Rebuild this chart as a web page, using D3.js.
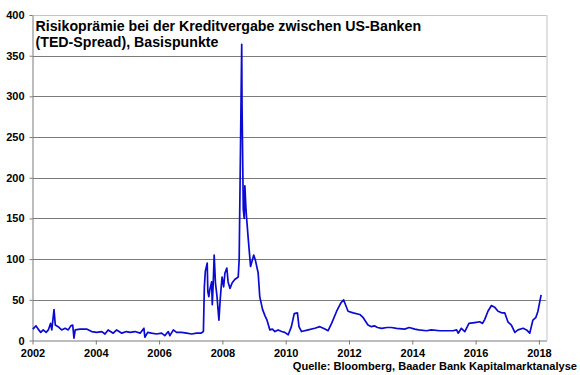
<html>
  <head>
    <style>
      body { margin: 0; background: #fff; }
      text { font-family: "Liberation Sans", Arial, sans-serif; }
    </style>
  </head>
  <body>
    <div id="chart"><svg width=580 height=375></svg></div>
    <script type="text/javascript" src="https://cdnjs.cloudflare.com/ajax/libs/d3/7.8.5/d3.min.js"></script>
    <script type="text/javascript">
// TED spread, basis points (decimal years)
var years = [2002.01, 2002.11, 2002.18, 2002.26, 2002.34, 2002.43, 2002.50, 2002.57, 2002.61, 2002.68,
  2002.72, 2002.81, 2002.92, 2003.03, 2003.13, 2003.21, 2003.27, 2003.31, 2003.35, 2003.50,
  2003.71, 2003.87, 2004.03, 2004.19, 2004.29, 2004.39, 2004.55, 2004.66, 2004.82, 2004.97,
  2005.08, 2005.24, 2005.40, 2005.52, 2005.55, 2005.64, 2005.76, 2005.92, 2006.08, 2006.18,
  2006.29, 2006.34, 2006.45, 2006.55, 2006.71, 2006.87, 2007.03, 2007.18, 2007.32, 2007.40,
  2007.43, 2007.46, 2007.52, 2007.54, 2007.57,
  2007.60, 2007.66, 2007.68, 2007.71, 2007.74, 2007.78, 2007.83, 2007.89, 2007.93, 2007.96,
  2007.99, 2008.04, 2008.08, 2008.14, 2008.18, 2008.24, 2008.31, 2008.39, 2008.50, 2008.53,
  2008.57, 2008.61, 2008.62, 2008.66, 2008.69, 2008.71, 2008.74, 2008.76, 2008.81, 2008.89,
  2008.94, 2008.99, 2009.04, 2009.13, 2009.18, 2009.27, 2009.35, 2009.41, 2009.50, 2009.58,
  2009.66, 2009.76, 2009.87, 2009.97, 2010.08, 2010.18, 2010.27, 2010.37, 2010.42, 2010.50,
  2010.71, 2010.92, 2011.08, 2011.24, 2011.34, 2011.45, 2011.61, 2011.74, 2011.83, 2011.89,
  2011.97, 2012.13, 2012.34, 2012.45, 2012.60, 2012.71, 2012.80, 2012.90, 2013.03, 2013.20,
  2013.34, 2013.50, 2013.76, 2013.90, 2014.08, 2014.20, 2014.45, 2014.60, 2014.87, 2015.00,
  2015.29, 2015.40, 2015.45, 2015.55, 2015.66, 2015.79, 2015.97, 2016.13, 2016.22, 2016.29,
  2016.39, 2016.50, 2016.60, 2016.71, 2016.82, 2016.92, 2017.02, 2017.13, 2017.24, 2017.34,
  2017.50, 2017.61, 2017.71, 2017.81, 2017.90, 2017.97, 2018.03, 2018.07];
var spread = [14, 18, 14, 10, 13, 10, 13, 21, 13, 38,
  19, 17, 13, 15, 13, 18, 19, 3, 13, 14,
  14, 11, 10, 11, 8, 13, 9, 13, 9, 11,
  10, 11, 9, 15, 4, 10, 9, 8, 9, 6,
  11, 6, 13, 10, 10, 9, 8, 9, 9, 11,
  66, 85, 95, 60, 54,
  62, 72, 44, 70, 105, 71, 54, 25, 50, 65,
  78, 66, 83, 89, 72, 64, 71, 75, 78, 100,
  231, 364, 290, 161, 150, 190, 165, 153, 128, 91,
  98, 105, 99, 83, 54, 38, 30, 25, 13, 14,
  11, 13, 11, 10, 7, 17, 33, 34, 17, 11,
  13, 15, 17, 14, 12, 21, 36, 46, 50, 44,
  36, 34, 32, 28, 19, 17, 18, 16, 15, 16,
  16, 15, 14, 16, 14, 13, 12, 13, 12, 12,
  12, 13, 9, 15, 11, 21, 22, 23, 21, 26,
  36, 43, 41, 36, 34, 34, 23, 19, 10, 13,
  15, 13, 9, 25, 28, 36, 48, 56];
var yearTicks = [2002, 2004, 2006, 2008, 2010, 2012, 2014, 2016, 2018];
var valueTicks = [0, 50, 100, 150, 200, 250, 300, 350, 400];
var titleLines = ["Risikoprämie bei der Kreditvergabe zwischen US-Banken", "(TED-Spread), Basispunkte"];
var source = "Quelle: Bloomberg, Baader Bank Kapitalmarktanalyse";

var svg = d3.select("#chart svg");
var plotLeft = 32.5, plotRight = 546.5, plotTop = 15, plotBottom = 340.5;

var x = d3.scaleLinear().domain([2002, 2018.24]).range([plotLeft, plotRight]);
var y = d3.scaleLinear().domain([0, 400]).range([plotBottom, plotTop]);

// gridlines
svg.append("g").selectAll("line")
  .data(valueTicks.filter(function(d) { return d > 0; }))
  .enter().append("line")
    .attr("x1", plotLeft).attr("x2", plotRight)
    .attr("y1", function(d) { return Math.round(y(d)) + 0.5; })
    .attr("y2", function(d) { return Math.round(y(d)) + 0.5; })
    .attr("stroke", function(d) { return d == 400 ? "#c4c4c4" : "#7a7a7a"; })
    .attr("stroke-width", 1);
// right border
svg.append("line")
  .attr("x1", plotRight + 0.5).attr("x2", plotRight + 0.5)
  .attr("y1", y(400)).attr("y2", plotBottom)
  .attr("stroke", "#c4c4c4");

// axes
var yAxis = d3.axisLeft(y).tickValues(valueTicks).tickSizeInner(3).tickSizeOuter(0).tickPadding(5);
var gy = svg.append("g").attr("transform", "translate(" + plotLeft + ",0)").call(yAxis);
var xAxis = d3.axisBottom(x).tickValues(yearTicks).tickFormat(d3.format("d")).tickSizeInner(4).tickSizeOuter(0).tickPadding(5);
var gx = svg.append("g").attr("transform", "translate(0," + plotBottom + ")").call(xAxis);
[gx, gy].forEach(function(g) {
  g.select(".domain").attr("stroke", "#7a7a7a");
  g.selectAll(".tick line").attr("stroke", "#7a7a7a");
  g.selectAll("text")
    .attr("fill", "#000")
    .style("font-family", '"Liberation Sans", Arial, sans-serif')
    .style("font-size", "11px")
    .style("font-weight", "bold");
});

// the series
var line = d3.line()
  .x(function(d, i) { return x(years[i]); })
  .y(function(d) { return y(d); });
svg.append("path")
  .datum(spread)
  .attr("fill", "none")
  .attr("stroke", "#0a0ad2")
  .attr("stroke-width", 1.7)
  .attr("stroke-linejoin", "round")
  .attr("d", line);

// title
svg.append("g").selectAll("text")
  .data(titleLines)
  .enter().append("text")
    .attr("x", 35.5)
    .attr("y", function(d, i) { return 31 + i * 15.5; })
    .style("font-size", "14.2px")
    .style("font-weight", "bold")
    .text(function(d) { return d; });

svg.append("text")
  .attr("x", 577)
  .attr("y", 370)
  .attr("text-anchor", "end")
  .style("font-size", "11.1px")
  .style("font-weight", "bold")
  .text(source);
    </script>
  </body>
</html>
